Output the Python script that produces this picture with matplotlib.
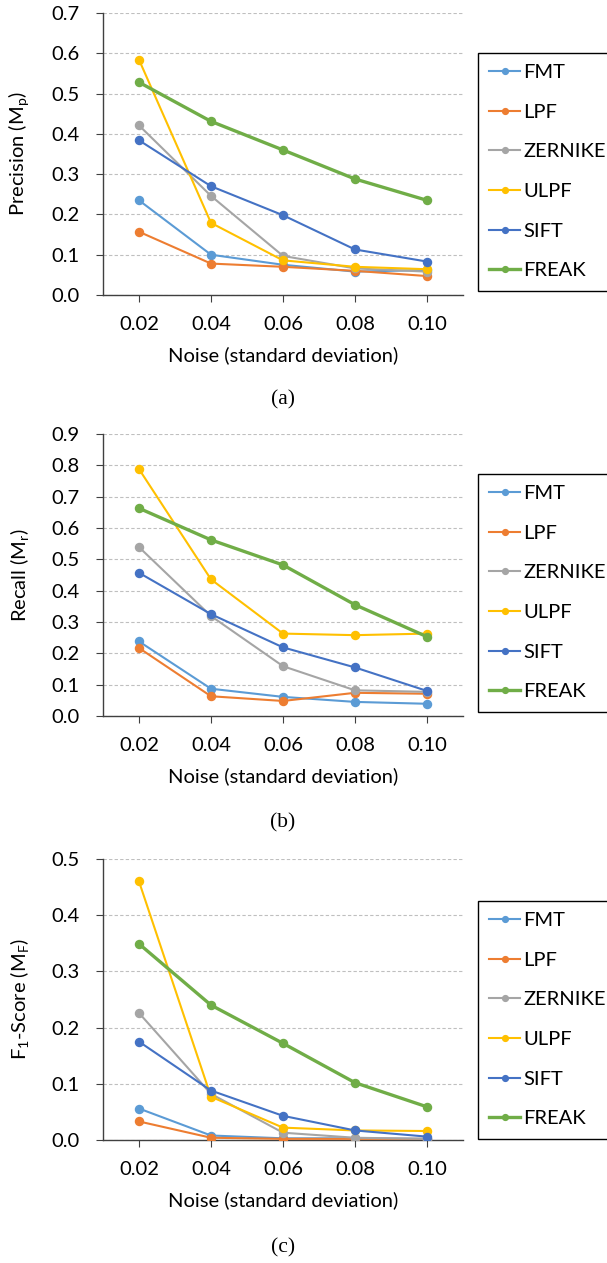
import matplotlib
matplotlib.use("Agg")
import matplotlib.pyplot as plt

plt.rcParams['font.family'] = ['Lato', 'DejaVu Sans']
plt.rcParams['mathtext.fontset'] = 'custom'
plt.rcParams['mathtext.rm'] = 'Lato'

noise_labels = ['0.02', '0.04', '0.06', '0.08', '0.10']
methods = ['FMT', 'LPF', 'ZERNIKE', 'ULPF', 'SIFT', 'FREAK']
colors = ['#5B9BD5', '#ED7D31', '#A5A5A5', '#FFC000', '#4472C4', '#70AD47']

precision_fmt = [0.235, 0.100, 0.075, 0.058, 0.062]
precision_lpf = [0.157, 0.078, 0.070, 0.060, 0.047]
precision_zernike = [0.421, 0.246, 0.097, 0.066, 0.058]
precision_ulpf = [0.584, 0.179, 0.086, 0.070, 0.064]
precision_sift = [0.384, 0.270, 0.198, 0.113, 0.083]
precision_freak = [0.528, 0.431, 0.360, 0.288, 0.235]

recall_fmt = [0.238, 0.087, 0.061, 0.045, 0.039]
recall_lpf = [0.217, 0.063, 0.048, 0.074, 0.071]
recall_zernike = [0.539, 0.319, 0.159, 0.082, 0.077]
recall_ulpf = [0.788, 0.436, 0.263, 0.258, 0.263]
recall_sift = [0.457, 0.325, 0.219, 0.155, 0.080]
recall_freak = [0.663, 0.562, 0.482, 0.355, 0.253]

f1_fmt = [0.056, 0.008, 0.003, 0.003, 0.002]
f1_lpf = [0.033, 0.004, 0.002, 0.002, 0.002]
f1_zernike = [0.226, 0.082, 0.013, 0.004, 0.002]
f1_ulpf = [0.460, 0.077, 0.022, 0.017, 0.016]
f1_sift = [0.175, 0.088, 0.043, 0.017, 0.006]
f1_freak = [0.349, 0.240, 0.172, 0.102, 0.059]

panels = [
    dict(data=[precision_fmt, precision_lpf, precision_zernike, precision_ulpf, precision_sift, precision_freak],
         ylabel='Precision (M$_\\mathregular{p}$)', ymax=0.7, yticks=[0.0, 0.1, 0.2, 0.3, 0.4, 0.5, 0.6, 0.7],
         caption='(a)'),
    dict(data=[recall_fmt, recall_lpf, recall_zernike, recall_ulpf, recall_sift, recall_freak],
         ylabel='Recall (M$_\\mathregular{r}$)', ymax=0.9, yticks=[0.0, 0.1, 0.2, 0.3, 0.4, 0.5, 0.6, 0.7, 0.8, 0.9],
         caption='(b)'),
    dict(data=[f1_fmt, f1_lpf, f1_zernike, f1_ulpf, f1_sift, f1_freak],
         ylabel='F$_\\mathregular{1}$-Score (M$_\\mathregular{F}$)', ymax=0.5, yticks=[0.0, 0.1, 0.2, 0.3, 0.4, 0.5],
         caption='(c)'),
]

W, H = 607, 1263
fig = plt.figure(figsize=(W / 100, H / 100), dpi=100)

# pixel layouts: (axes top, axes bottom, legend top, caption y)
layout = [(13, 295, 53, 400), (434, 716, 474, 823), (859, 1140, 901, 1248)]
ax_left, ax_right = 103, 463
FS = 14.5

x = list(range(len(noise_labels)))
for p, (top, bot, legtop, capy) in zip(panels, layout):
    ax = fig.add_axes([ax_left / W, 1 - bot / H, (ax_right - ax_left) / W, (bot - top) / H])
    for name, col, vals in zip(methods, colors, p['data']):
        lw = 2.4 if name == 'FREAK' else 1.5
        ax.plot(x, vals, color=col, lw=lw, marker='o', ms=5.8, label=name, zorder=3)
    ax.set_xlim(-0.5, len(noise_labels) - 0.5)
    ax.set_ylim(0, p['ymax'])
    ax.set_yticks(p['yticks'])
    ax.set_yticklabels([f'{t:.1f}' for t in p['yticks']])
    ax.set_xticks(x)
    ax.set_xticklabels(noise_labels)
    ax.yaxis.grid(True, color='#BFBFBF', lw=0.8, linestyle=(0, (3, 2)))
    ax.set_axisbelow(True)
    for s in ['top', 'right']:
        ax.spines[s].set_visible(False)
    for s in ['left', 'bottom']:
        ax.spines[s].set_color('#404040')
        ax.spines[s].set_linewidth(1.0)
    ax.tick_params(axis='both', direction='out', length=5, width=0.8, color='#404040',
                   labelsize=FS, labelcolor='black')
    ax.tick_params(axis='x', pad=10)
    ax.tick_params(axis='y', pad=12)
    ax.set_ylabel(p['ylabel'], fontsize=FS, labelpad=14)
    ax.set_xlabel('Noise (standard deviation)', fontsize=FS, labelpad=10)
    leg = ax.legend(loc='upper left', bbox_to_anchor=(478 / W, 1 - legtop / H),
                    bbox_transform=fig.transFigure, borderaxespad=0, fontsize=FS,
                    frameon=True, fancybox=False, edgecolor='black', framealpha=1,
                    handlelength=1.55, handletextpad=0.15, labelspacing=1.12,
                    borderpad=0.55, markerscale=0.72)
    leg.get_frame().set_linewidth(1.0)
    fig.text((ax_left + ax_right) / 2 / W, 1 - capy / H, p['caption'],
             ha='center', va='center', fontsize=15.5, family='Liberation Serif')

fig.savefig('out.png', dpi=100)
